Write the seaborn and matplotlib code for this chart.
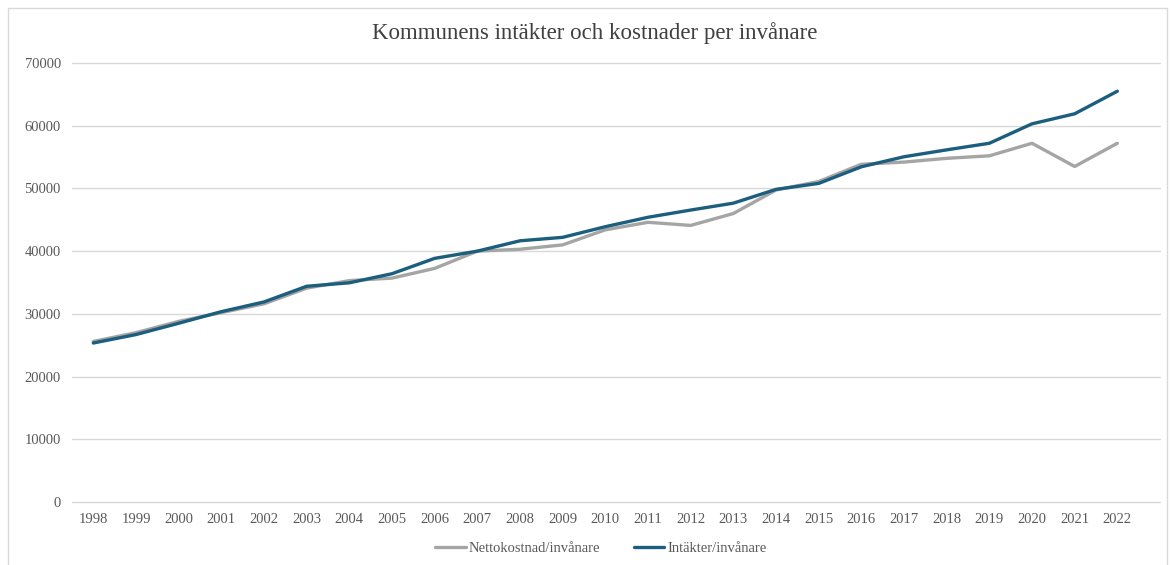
import numpy as np
import pandas as pd
import matplotlib
matplotlib.use("Agg")
import matplotlib.pyplot as plt
from matplotlib.patches import Rectangle
import seaborn as sns

# values (kr per invånare)
years = list(range(1998, 2023))
nettokostnad = [25600, 27000, 28800, 30200, 31600, 34100, 35300, 35700, 37250, 40000,
                40300, 41000, 43400, 44600, 44100, 46000, 49750, 51100, 53850, 54200,
                54800, 55200, 57200, 53500, 57200]
intakter = [25350, 26700, 28500, 30350, 31900, 34400, 34950, 36400, 38850, 40000,
            41650, 42200, 43900, 45400, 46550, 47650, 49850, 50800, 53450, 55050,
            56150, 57200, 60300, 61900, 65500]
series_names = ["Nettokostnad/invånare", "Intäkter/invånare"]
yticks = list(range(0, 70001, 10000))

df = pd.DataFrame({
    "År": years * 2,
    "Värde": nettokostnad + intakter,
    "Serie": [series_names[0]] * len(years) + [series_names[1]] * len(years),
})

sns.set_style("white")
plt.rcParams["font.family"] = ["Liberation Serif", "DejaVu Serif"]

fig = plt.figure(figsize=(11.71, 5.65), dpi=100)
ax = fig.add_axes([72 / 1171, 1 - 502 / 565, (1160 - 72) / 1171, (502 - 63) / 565])

palette = {series_names[0]: "#A5A5A5", series_names[1]: "#1B5E7E"}
sns.lineplot(data=df, x="År", y="Värde", hue="Serie", palette=palette, linewidth=2.4,
             ax=ax, legend=False)

ax.set_xlim(1997.5, 2023.0)
ax.set_ylim(0, 70000)
ax.set_xticks(years)
ax.set_xticklabels([str(y) for y in years], fontsize=10.5, color="#595959")
ax.set_yticks(yticks)
ax.set_yticklabels([str(v) for v in yticks], fontsize=10.5, color="#595959")
ax.tick_params(axis="both", length=0, pad=8)
ax.grid(axis="y", color="#D9D9D9", linewidth=1)
ax.set_axisbelow(True)
for line in ax.get_ygridlines():
    line.set_clip_on(False)
for s in ax.spines.values():
    s.set_visible(False)
ax.set_xlabel("")
ax.set_ylabel("")

fig.text(0.508, 1 - 33 / 565, "Kommunens intäkter och kostnader per invånare",
         ha="center", va="center", fontsize=16.5, color="#404040")

handles = [plt.Line2D([], [], color=palette[n], linewidth=2.4) for n in series_names]
fig.legend(handles, series_names, loc="center", bbox_to_anchor=(0.513, 1 - 548 / 565),
           ncol=2, frameon=False, fontsize=10.5, handlelength=2.1, handletextpad=0.2,
           columnspacing=2.3, labelcolor="#595959")

# light chart-area border
fig.patches.append(Rectangle((8 / 1171, -0.02), (1167 - 8) / 1171, 1.02 - 8 / 565,
                             transform=fig.transFigure, fill=False,
                             edgecolor="#D9D9D9", linewidth=1))

fig.savefig("out.png", dpi=100)
